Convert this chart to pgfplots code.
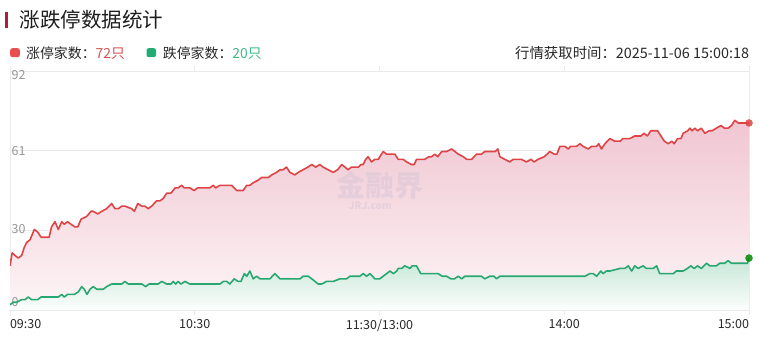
\documentclass[border=0pt]{standalone}
\usepackage{fontspec}
\setmainfont{Noto Sans CJK SC}
\usepackage{pgfplots}
\usepackage{pgfplotstable}
\pgfplotsset{compat=1.18}
\definecolor{titlebar}{RGB}{178,28,58}
\definecolor{titletxt}{RGB}{30,30,30}
\definecolor{lgtxt}{RGB}{40,40,40}
\definecolor{redline}{RGB}{222,68,70}
\definecolor{redsq}{RGB}{234,78,78}
\definecolor{redtxt}{RGB}{212,82,80}
\definecolor{greenline}{RGB}{40,168,112}
\definecolor{greensq}{RGB}{34,172,116}
\definecolor{greentxt}{RGB}{64,186,132}
\definecolor{redtop}{RGB}{240,198,209}
\definecolor{redbot}{RGB}{253,245,247}
\definecolor{greentop}{RGB}{198,231,214}
\definecolor{greenbot}{RGB}{252,254,253}
\definecolor{gridc}{RGB}{234,234,234}
\definecolor{ticktxt}{RGB}{40,40,40}
\definecolor{ytxt}{RGB}{150,150,150}
\definecolor{wm}{RGB}{200,190,210}

\pgfplotstableread{
m v
0 17
0.7 22
1.6 21
2.7 20
3.8 21
4.6 24
5.4 26
6.5 27
7.9 31
9.0 30
10.1 28
11.4 28
12.7 28
13.5 32
14.6 34
15.7 31
16.8 34
17.6 33
18.7 34
19.8 33
21.1 32
22.0 32
23.1 35
24.9 36
26.3 38
27.0 38
28.5 37
29.8 38
31.4 39
33.0 41
34.1 39
35.2 39
36.3 40
37.3 40
39.5 39
40.4 38
41.5 41
42.8 40
43.8 40
44.9 39
46.0 40
47.6 42
48.7 42
49.8 43
50.9 45
52.3 45
53.6 47
54.6 47
55.7 48
56.6 47
58.4 47
59.8 46
60.9 47
64.9 47
66.0 48
66.8 47
68.2 48
72.0 48
73.6 46
75.7 46
76.9 48
77.9 48
79.0 49
80.6 50
81.7 51
82.8 51
83.9 51
85.0 52
86.6 53
87.7 54
88.7 54
89.8 55
90.9 53
92.5 52
93.6 53
95.2 54
96.7 55
98.0 56
99.3 55
100.6 56
101.7 55
103.3 54
105.0 53
106.4 54
107.7 56
108.8 55
109.8 54
110.9 55
113.1 55
114.0 56
114.7 56
115.5 58
116.3 59
117.4 57
118.5 58
119.6 58
120.1 59
121.2 61
122.3 60
123.4 60
125.0 60
126.1 58
127.7 58
128.8 57
130.4 56
131.3 56
132.0 58
134.7 58
136.0 59
136.9 59
138.0 60
138.9 59
140.2 61
141.8 61
143.4 62
144.5 61
145.6 60
147.2 59
148.3 58
149.9 58
151.5 60
153.1 60
154.2 61
157.6 61
158.4 62
159.1 59
160.7 58
162.3 57
163.4 58
164.5 58
166.1 58
167.7 57
169.2 58
170.2 57
171.5 58
173.5 59
175.3 61
176.7 60
177.6 60
178.6 63
180.2 63
181.3 62
182.1 63
184.0 63
185.1 64
186.1 63
187.8 62
188.9 63
190.5 63
191.2 64
192.1 62
193.2 64
194.8 66
196.4 65
198.1 65
199.1 66
201.3 66
202.9 67
204.9 67
205.9 68
207.0 67
208.1 69
209.4 69
210.3 69
211.4 67
212.5 65
213.8 64
214.9 65
215.7 64
216.8 66
217.9 66
218.6 68
220.1 69
220.8 70
221.5 69
222.4 70
223.3 69
224.5 70
225.7 68
227.0 69
228.0 69
229.4 70
230.9 71
232.0 70
233.2 70
234.3 71
235.4 73
236.5 72
237.5 72
240 72
}\redtab

\pgfplotstableread{
m v
0 2
1.1 3
2.2 3
3.8 4
4.9 4
5.9 5
7.0 4
9.0 4
10.1 5
15.7 5
16.8 6
17.6 5
18.7 6
20.9 6
22.2 7
23.3 9
24.1 8
25.0 6
26.0 8
27.0 9
28.2 8
30.3 8
31.4 9
33.0 10
36.3 10
37.3 11
38.4 10
42.8 10
44.1 9
45.1 10
48.1 10
49.3 11
50.9 10
52.3 10
53.0 11
53.8 10
54.6 11
55.5 10
56.8 11
58.4 10
68.2 10
69.3 11
70.4 11
71.4 10
72.8 12
74.1 11
75.0 11
76.1 14
76.9 13
77.9 15
79.0 12
80.1 13
81.2 12
83.3 12
84.4 12
86.0 14
87.7 12
94.2 12
95.2 13
96.9 13
98.0 12
100.1 10
101.2 10
102.8 11
105.0 11
107.1 12
109.3 12
110.4 13
113.6 13
114.7 14
115.8 13
116.9 14
118.5 12
120.1 12
121.2 13
122.3 14
123.4 15
124.5 14
125.6 15
126.1 16
127.2 16
128.2 17
129.9 16
130.6 17
132.0 17
133.4 14
134.7 14
137.4 14
139.0 14
140.4 13
141.8 13
143.2 12
144.3 12
145.6 13
146.7 12
147.7 13
153.1 13
154.2 12
155.8 13
157.2 13
158.0 12
159.1 13
186.7 13
188.3 14
189.4 14
190.5 13
191.9 15
192.6 14
193.7 15
194.8 15
198.1 16
199.7 16
200.8 17
201.9 15
202.9 17
204.0 16
205.6 17
206.7 16
208.9 16
210.0 17
211.0 14
215.4 14
216.4 15
218.6 15
220.0 16
221.1 17
222.2 16
223.3 17
224.5 16
226.2 18
227.3 17
229.4 17
230.5 18
232.1 18
233.2 19
234.3 18
239.5 18
240 20
}\greentab

\begin{document}
\begin{tikzpicture}
% header
\fill[titlebar] (-5bp,282bp) rectangle (-2bp,298bp);
\node[anchor=west, inner sep=0, text=titletxt] at (9.5bp,290bp) {\fontsize{20.5bp}{24bp}\selectfont 涨跌停数据统计};
\fill[redsq, rounded corners=2.2bp] (0.2bp,252.8bp) rectangle (9.8bp,261.8bp);
\node[anchor=west, inner sep=0, text=lgtxt] at (16bp,257.3bp) {\fontsize{13.9bp}{16bp}\selectfont 涨停家数：\textcolor{redtxt}{72只}};
\fill[greensq, rounded corners=2.2bp] (136.5bp,252.8bp) rectangle (146bp,261.8bp);
\node[anchor=west, inner sep=0, text=lgtxt] at (152.7bp,257.3bp) {\fontsize{13.9bp}{16bp}\selectfont 跌停家数：\textcolor{greentxt}{20只}};
\node[anchor=east, inner sep=0, text=lgtxt] at (739.3bp,257.3bp) {\fontsize{14.4bp}{16bp}\selectfont 行情获取时间：2025-11-06 15:00:18};
\begin{axis}[
  set layers,
  at={(0,0)}, anchor=south west,
  scale only axis, width=739bp, height=239bp,
  xmin=0, xmax=240, ymin=0, ymax=92,
  axis line style={draw=gridc, line width=0.8bp},
  xtick={0,60,120,180,240},
  xticklabels={\makebox[0pt][l]{09:30},10:30,11:30/13:00,14:00,\makebox[0pt][r]{15:00}},
  xtick align=outside,
  major tick length=5bp,
  xtick style={draw=gridc, line width=0.8bp},
  xticklabel style={font=\fontsize{12.5bp}{14bp}\selectfont, text=ticktxt, yshift=-1bp},
  ytick={30.6667,61.3333,92},
  yticklabels={\raisebox{-3bp}{30},\raisebox{-4.5bp}{61},\raisebox{-8bp}{92}},
  yticklabel style={anchor=base west, font=\fontsize{12.5bp}{14bp}\selectfont, text=ytxt, xshift=1.5bp, inner sep=0pt},
  ytick style={draw=none},
  ymajorgrids, grid style={draw=gridc, line width=0.8bp},
  clip=true,
]
\addplot[draw=none, top color=redtop, bottom color=redbot] table[x=m,y=v] {\redtab} \closedcycle;
\addplot[draw=none, top color=greentop, bottom color=greenbot] table[x=m,y=v] {\greentab} \closedcycle;
\node[text=wm, opacity=0.35, font=\bfseries\fontsize{29bp}{30bp}\selectfont] at (axis cs:120,48) {金融界};
\node[text=wm, opacity=0.35, font=\bfseries\fontsize{10bp}{12bp}\selectfont] at (axis cs:117,40) {JRJ.com};
\node[anchor=base west, inner sep=0pt, text=ytxt, font=\fontsize{12.5bp}{14bp}\selectfont, xshift=1.5bp, yshift=4bp] at (axis cs:0,0) {0};
\addplot[redline, line width=1.6bp, line join=round] table[x=m,y=v] {\redtab};
\addplot[greenline, line width=1.6bp, line join=round] table[x=m,y=v] {\greentab};
\addplot[only marks, mark=*, mark size=3.5bp, redline, opacity=0.85] coordinates {(240,72)};
\addplot[only marks, mark=*, mark size=3.5bp, green!55!black, opacity=0.85] coordinates {(240,20)};
\end{axis}
\pgfresetboundingbox
\path[use as bounding box] (-10bp,-35bp) rectangle (749bp,310bp);
\end{tikzpicture}
\end{document}
